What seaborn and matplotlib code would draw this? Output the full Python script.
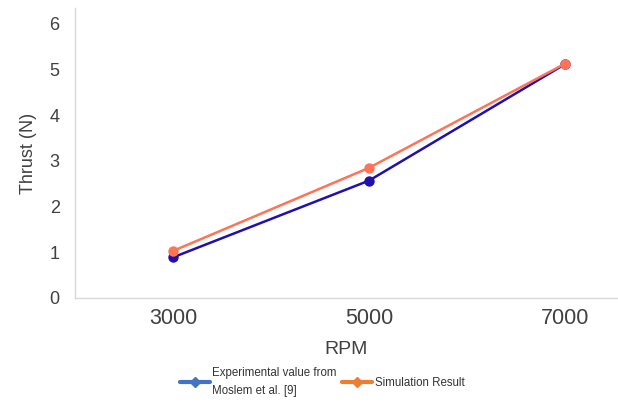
import matplotlib
matplotlib.use("Agg")
import matplotlib.pyplot as plt
import seaborn as sns
import pandas as pd
from matplotlib.lines import Line2D

rpm = [3000, 5000, 7000]
experimental = [0.89, 2.57, 5.12]
simulation = [1.03, 2.85, 5.13]
series_names = ["Experimental value from\nMoslem et al. [9]", "Simulation Result"]
yticks = [0, 1, 2, 3, 4, 5, 6]
xticks = [3000, 5000, 7000]

df = pd.DataFrame({
    "RPM": rpm * 2,
    "Thrust": experimental + simulation,
    "Series": [series_names[0]] * 3 + [series_names[1]] * 3,
})

sns.set_style("white")
plt.rcParams['font.family'] = ['Liberation Sans', 'DejaVu Sans']

fig = plt.figure(figsize=(6.18, 4.04), dpi=100)
ax = fig.add_axes([75 / 618, 1 - 298 / 404, 1 - 75 / 618, 290 / 404])

line_colors = ["#2010B0", "#FF7357"]
sns.lineplot(data=df, x="RPM", y="Thrust", hue="Series", palette=line_colors,
             marker="o", markersize=7.5, markeredgewidth=0, linewidth=1.8,
             ax=ax, legend=False)

ax.set_xlim(2000, 7541)
ax.set_ylim(0, 6.35)
ax.set_xticks(xticks)
ax.set_xticklabels([str(x) for x in xticks])
ax.set_yticks(yticks)
ax.tick_params(axis='both', length=0, colors="#404040")
ax.tick_params(axis='y', pad=11, labelsize=13)
ax.tick_params(axis='x', pad=7, labelsize=15.5)
ax.set_xlabel("RPM", fontsize=14, color="#404040", labelpad=9)
ax.set_ylabel("Thrust (N)", fontsize=13, color="#404040", labelpad=9)

for side in ["top", "right"]:
    ax.spines[side].set_visible(False)
for side in ["left", "bottom"]:
    ax.spines[side].set_color("#D9D9D9")
    ax.spines[side].set_linewidth(1.0)

legend_colors = ["#4472C4", "#ED7D31"]
handles = [Line2D([0], [0], color=c, lw=3, marker="D", markersize=5) for c in legend_colors]
leg = fig.legend(handles, series_names, loc="center", bbox_to_anchor=(322 / 618, 1 - 382 / 404),
                 ncol=2, frameon=False, fontsize=8.3, handlelength=2.6, handletextpad=0.2,
                 columnspacing=0.5, labelspacing=0.2)
for t in leg.get_texts():
    t.set_color("#333333")
    t.set_linespacing(1.6)

fig.savefig("out.png", dpi=100)
